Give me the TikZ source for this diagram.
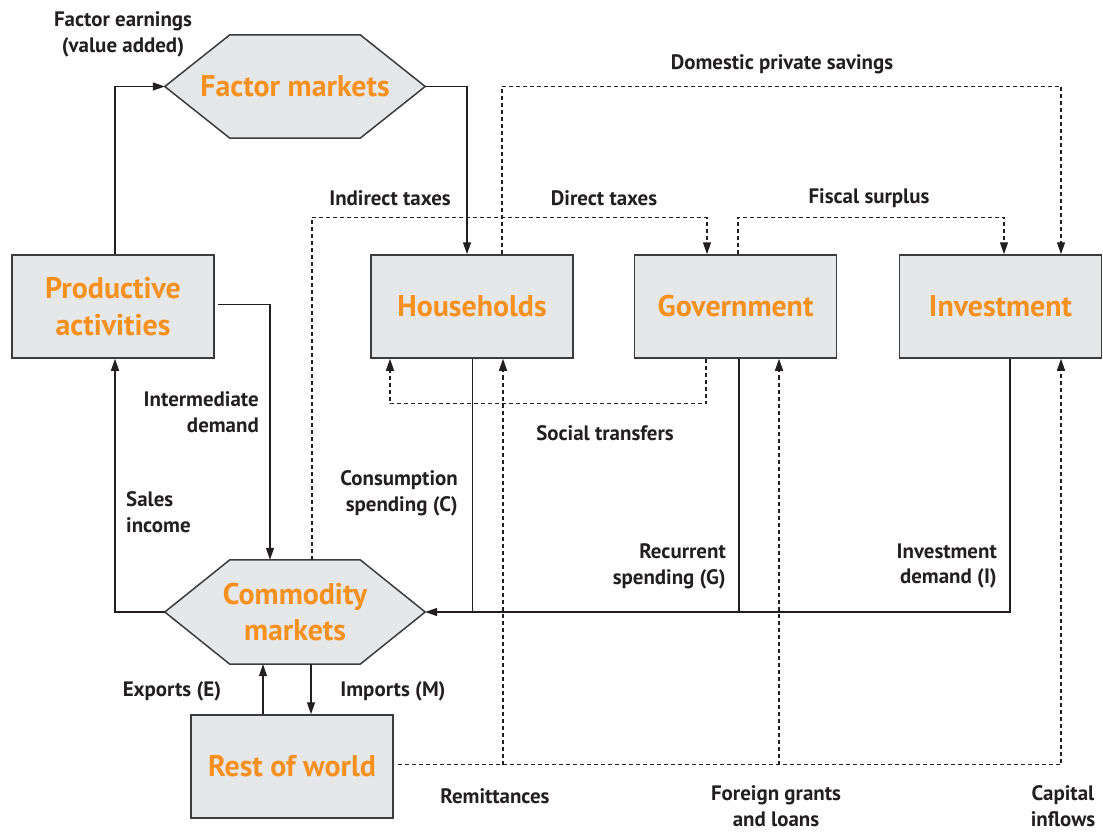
\documentclass[tikz,border=0pt]{standalone}
\usepackage{fontspec}
\setmainfont{PT Sans}
\usetikzlibrary{arrows.meta,calc}
\definecolor{boxfill}{HTML}{E6E7E8}
\definecolor{boxline}{HTML}{3C3C3C}
\definecolor{titleorange}{HTML}{F7901E}
\definecolor{ink}{HTML}{231F20}
\begin{document}
\begin{tikzpicture}[x=1bp,y=-1bp,
  box/.style={draw=boxline,line width=1.5bp,fill=boxfill,minimum width=202bp,minimum height=103bp,inner sep=0pt},
  title/.style={text=titleorange,font=\fontsize{30}{36.5}\selectfont\bfseries,align=center,inner sep=0pt},
  hexarea/.style={minimum width=260bp,minimum height=103bp,inner sep=0pt},
  hexline/.style={draw=boxline,line width=1.5bp,fill=boxfill,line join=miter},
  link/.style={draw=ink,line width=1.3bp},
  flow/.style={link,-{Triangle[length=12bp,width=8bp]}},
  dflow/.style={flow,dash pattern=on 4bp off 3bp},
  lbl/.style={text=ink,font=\fontsize{21}{26}\selectfont\bfseries,inner sep=0pt}
]
\useasboundingbox (0,0) rectangle (1103,832);

% market hexagons
\node[hexarea] (fac) at (295,86.5) {};
\draw[hexline] (fac.west) -- ($(fac.north west)+(65,0)$) -- ($(fac.north east)+(-65,0)$) -- (fac.east)
  -- ($(fac.south east)+(-65,0)$) -- ($(fac.south west)+(65,0)$) -- cycle;
\node[title] (factxt) at (fac.center) {Factor markets};

\node[hexarea,minimum height=104bp] (comm) at (295,612) {};
\draw[hexline] (comm.west) -- ($(comm.north west)+(65,0)$) -- ($(comm.north east)+(-65,0)$) -- (comm.east)
  -- ($(comm.south east)+(-65,0)$) -- ($(comm.south west)+(65,0)$) -- cycle;
\node[title] (commtxt) at (comm.center) {Commodity\\markets};

% institution boxes
\node[box,title] (prod) at (113,306.5) {Productive\\activities};
\node[box,title] (hh)   at (472,306.5) {Households};
\node[box,title] (gov)  at (735.5,306.5) {Government};
\node[box,title] (inv)  at (1000.5,306.5) {Investment};
\node[box,title] (row)  at (292,766.5) {Rest of world};

% real flows
\draw[flow] ($(prod.north)+(2,0)$) |- (fac.west);
\draw[flow] (fac.east) -| ($(hh.north)+(-5,0)$);
\draw[flow] ($(prod.east)+(3,-2)$) -| ($(comm.north)+(-25,0)$);
\draw[flow] (comm.west) -| ($(prod.south)+(2,0)$);
\draw[flow] ($(row.north)+(-29,0)$) -- ($(comm.south)+(-32,0)$);
\draw[flow] ($(comm.south)+(16,0)$) -- ($(row.north)+(19,0)$);

% final demand to commodity markets
\coordinate (hS) at ($(hh.south)+(0.5,0)$);
\coordinate (gS) at ($(gov.south)+(3.5,0)$);
\coordinate (iS) at ($(inv.south)+(9.5,0)$);
\draw[link] (hS) -- (hS |- comm.east);
\draw[link] (gS) -- (gS |- comm.east);
\draw[flow] (iS) |- (comm.east);

% taxes, savings and transfers
\draw[dflow] ($(comm.north)+(17,0)$) |- ($(gov.north)+(-28.5,-37)$) -- ($(gov.north)+(-28.5,0)$);
\draw[dflow] ($(hh.north)+(30,0)$) |- ($(inv.north)+(60.5,-168)$) -- ($(inv.north)+(60.5,0)$);
\draw[dflow] ($(gov.north)+(2.5,0)$) |- ($(inv.north)+(3.5,-37)$) -- ($(inv.north)+(3.5,0)$);
\draw[dflow] ($(gov.south)+(-29.5,0)$) |- ($(hh.south)+(-82,45)$) -- ($(hh.south)+(-82,0)$);

% foreign inflows
\coordinate (rowE) at ($(row.east)+(4,-2)$);
\coordinate (remit) at ($(hh.south)+(31,0)$);
\coordinate (grant) at ($(gov.south)+(43.5,0)$);
\draw[dflow] (rowE) -| ($(inv.south)+(60.5,0)$);
\draw[dflow] (remit |- rowE) -- (remit);
\draw[dflow] (grant |- rowE) -- (grant);

% flow labels
\node[lbl,align=center] (lfe) at (123,34) {Factor earnings\\(value added)};
\node[lbl] (lsav) at (782,64) {Domestic private savings};
\node[lbl] (lind) at (390,198) {Indirect taxes};
\node[lbl] (ldir) at (604,198) {Direct taxes};
\node[lbl] (lfis) at (869,198) {Fiscal surplus};
\node[lbl] (lsoc) at (605,433) {Social transfers};
\node[lbl,anchor=east,align=right] (lint) at (259,412) {Intermediate\\demand};
\node[lbl,anchor=west,align=left] (lsal) at (126,512) {Sales\\income};
\node[lbl,anchor=east,align=right] (lcon) at (458,493) {Consumption\\spending (C)};
\node[lbl,anchor=east,align=right] (lrec) at (726,566) {Recurrent\\spending (G)};
\node[lbl,anchor=east,align=right] (linv) at (997,566) {Investment\\demand (I)};
\node[lbl] (lexp) at (172,691) {Exports (E)};
\node[lbl] (limp) at (393,691) {Imports (M)};
\node[lbl] (lrem) at (495,796) {Remittances};
\node[lbl,align=center] (lfor) at (776,806) {Foreign grants\\and loans};
\node[lbl,align=center] (lcap) at (1063,806) {Capital\\inflows};
\end{tikzpicture}
\end{document}
